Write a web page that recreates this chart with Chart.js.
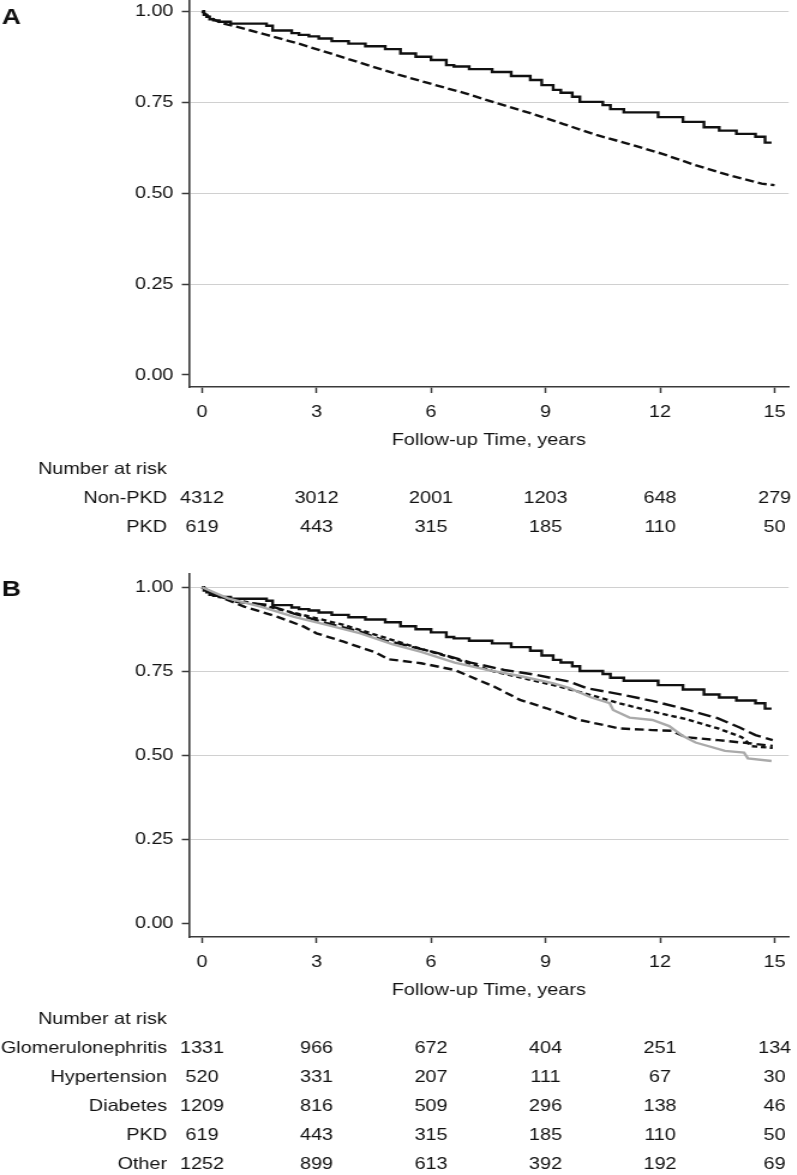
<!DOCTYPE html>
<html><head><meta charset="utf-8">
<script src="https://cdn.jsdelivr.net/npm/chart.js@4.4.1/dist/chart.umd.min.js"></script>
<style>
html,body{margin:0;padding:0;background:#fff;overflow:hidden;}
body{width:797px;height:1175px;position:relative;}
.wrap{position:absolute;left:0;width:664.17px;transform:scaleX(1.2);transform-origin:0 0;}
#wa{top:-20px;height:580px;}
#wb{top:540px;height:635px;}
</style></head><body>
<div class="wrap" id="wa"><canvas id="ca"></canvas></div>
<div class="wrap" id="wb"><canvas id="cb"></canvas></div>
<script>
// ---- tick values ----
const xTickValues = [0, 3, 6, 9, 12, 15];
const yTickValues = [0, 0.25, 0.5, 0.75, 1.0];
const xAxisTitle = 'Follow-up Time, years';

// ---- Panel A series ----
const tPKD = [0, 0.05, 0.12, 0.2, 0.3, 0.45, 0.75, 1.69, 1.85, 2.35, 2.54, 2.8, 3.06, 3.4, 3.84, 4.28, 4.8, 5.2, 5.6, 6.0, 6.4, 6.6, 7.0, 7.6, 8.1, 8.6, 8.9, 9.2, 9.4, 9.7, 9.9, 10.5, 10.7, 11.05, 11.95, 12.6, 13.15, 13.55, 14.0, 14.5, 14.75, 14.92];
const sPKD = [1.0, 0.99, 0.985, 0.978, 0.975, 0.971, 0.966, 0.960, 0.947, 0.940, 0.935, 0.931, 0.925, 0.918, 0.911, 0.904, 0.896, 0.884, 0.875, 0.866, 0.852, 0.848, 0.841, 0.833, 0.822, 0.811, 0.797, 0.784, 0.776, 0.765, 0.751, 0.742, 0.731, 0.722, 0.709, 0.696, 0.681, 0.672, 0.663, 0.655, 0.639, 0.639];
const tNonPKD = [0, 0.25, 0.5, 1.0, 1.7, 2.5, 3.06, 4.1, 5.14, 5.84, 6.88, 7.73, 8.6, 9.47, 10.33, 11.19, 12.06, 12.92, 13.78, 14.66, 15.0];
const sNonPKD = [1.0, 0.98, 0.968, 0.955, 0.935, 0.912, 0.894, 0.860, 0.826, 0.805, 0.775, 0.747, 0.720, 0.690, 0.660, 0.635, 0.608, 0.577, 0.550, 0.526, 0.522];

// ---- Panel B series ----
const tGlom = [0, 0.4, 0.9, 1.7, 2.41, 3.27, 4.15, 4.75, 5.14, 6.18, 7.04, 7.92, 8.77, 9.63, 10.07, 10.93, 11.8, 12.67, 13.52, 14.1, 14.5, 14.95];
const sGlom = [1.0, 0.975, 0.957, 0.948, 0.922, 0.893, 0.868, 0.843, 0.833, 0.804, 0.776, 0.754, 0.739, 0.719, 0.700, 0.682, 0.662, 0.637, 0.610, 0.582, 0.560, 0.545];
const tHyp = [0, 0.5, 1.12, 1.98, 2.67, 3.0, 3.71, 4.57, 4.88, 5.74, 6.62, 7.2, 7.66, 8.33, 9.03, 9.9, 10.93, 11.8, 12.3, 12.67, 13.52, 14.4, 14.95];
const sHyp = [1.0, 0.97, 0.942, 0.912, 0.883, 0.863, 0.838, 0.805, 0.786, 0.774, 0.754, 0.726, 0.704, 0.665, 0.640, 0.605, 0.580, 0.575, 0.573, 0.554, 0.545, 0.535, 0.528];
const tDiab = [0, 0.68, 1.56, 2.41, 3.27, 4.15, 5.0, 5.74, 6.62, 7.47, 8.33, 9.21, 9.63, 10.2, 10.68, 10.77, 11.2, 11.8, 12.24, 12.6, 12.93, 13.7, 14.2, 14.3, 14.92];
const sDiab = [1.0, 0.967, 0.942, 0.912, 0.888, 0.863, 0.830, 0.808, 0.776, 0.754, 0.736, 0.714, 0.700, 0.672, 0.655, 0.635, 0.612, 0.605, 0.587, 0.557, 0.538, 0.513, 0.508, 0.491, 0.483];
const tOther = [0, 0.5, 1.56, 2.85, 3.71, 4.57, 5.5, 6.5, 7.66, 8.33, 9.21, 10.07, 10.93, 11.8, 12.67, 13.52, 14.14, 14.4, 14.95];
const sOther = [1.0, 0.972, 0.947, 0.912, 0.888, 0.858, 0.825, 0.792, 0.749, 0.732, 0.709, 0.683, 0.655, 0.630, 0.608, 0.580, 0.554, 0.527, 0.522];

// ---- Number at risk ----
const riskHeader = 'Number at risk';
const riskLabelsA = ['Non-PKD', 'PKD'];
const riskNonPKD = [4312, 3012, 2001, 1203, 648, 279];
const riskPKD = [619, 443, 315, 185, 110, 50];
const riskLabelsB = ['Glomerulonephritis', 'Hypertension', 'Diabetes', 'PKD', 'Other'];
const riskGlom = [1331, 966, 672, 404, 251, 134];
const riskHyp = [520, 331, 207, 111, 67, 30];
const riskDiab = [1209, 816, 509, 296, 138, 46];
const riskOther = [1252, 899, 613, 392, 192, 69];

const FAMILY = "'Liberation Sans', Arial, Helvetica, sans-serif";
const FS = 16.5;
const TXT = '#111111';
const AX = '#3a3a3a';
const LW = 2.4;

function pts(t, s) { return t.map((v, i) => ({ x: v, y: s[i] })); }

const riskPlugin = {
  id: 'riskTable',
  afterDraw(chart, args, opts) {
    const ctx = chart.ctx, xs = chart.scales.x, area = chart.chartArea;
    ctx.save();
    ctx.fillStyle = TXT;
    ctx.font = FS + 'px ' + FAMILY;
    ctx.textBaseline = 'middle';
    ctx.textAlign = 'left';
    ctx.fillText(riskHeader, 31.7, area.bottom + 82.5);
    opts.labels.forEach((lab, r) => {
      const y = area.bottom + 111 + r * 29;
      ctx.textAlign = 'right';
      ctx.fillText(lab, 139.2, y);
      ctx.textAlign = 'center';
      opts.rows[r].forEach((v, i) => ctx.fillText(String(v), xs.getPixelForValue(xTickValues[i]), y));
    });
    ctx.font = 'bold 22px ' + FAMILY;
    ctx.textAlign = 'left';
    ctx.textBaseline = 'alphabetic';
    ctx.fillText(opts.panel, 1.5, opts.panelY);
    ctx.restore();
  }
};

function makeOptions(yMin, yMax, pad, risk) {
  const font = { family: FAMILY, size: FS };
  return {
    responsive: true, maintainAspectRatio: false, animation: false,
    layout: { padding: pad },
    plugins: { legend: { display: false }, tooltip: { enabled: false }, riskTable: risk },
    elements: { point: { radius: 0, hoverRadius: 0 }, line: { tension: 0 } },
    scales: {
      x: {
        type: 'linear', min: -0.34, max: 15.37,
        afterBuildTicks: s => { s.ticks = xTickValues.map(v => ({ value: v })); },
        afterFit: s => { s.height = 63.5; },
        ticks: { padding: 9.5, font, color: TXT, autoSkip: false, maxRotation: 0, callback: v => String(v) },
        grid: { drawOnChartArea: false, drawTicks: true, tickLength: 6, tickColor: AX, tickWidth: 1.5 },
        border: { color: AX, width: 1.6 },
        title: { display: true, text: xAxisTitle, font, color: TXT, padding: { top: 0, bottom: 0 } }
      },
      y: {
        type: 'linear', min: yMin, max: yMax,
        afterBuildTicks: s => { s.ticks = yTickValues.map(v => ({ value: v })); },
        afterFit: s => { s.width = 157.5; },
        ticks: { padding: 7, font, color: TXT, callback: v => Number(v).toFixed(2) },
        grid: {
          color: c => (c.tick && c.tick.value === 0) ? 'rgba(0,0,0,0)' : '#d0d0d0',
          lineWidth: 1, drawTicks: true, tickLength: 6, tickColor: AX, tickWidth: 1.5
        },
        border: { color: AX, width: 1.6 }
      }
    }
  };
}

new Chart(document.getElementById('ca'), {
  type: 'line',
  plugins: [riskPlugin],
  data: {
    datasets: [
      { label: 'Non-PKD', data: pts(tNonPKD, sNonPKD), borderColor: '#111', borderWidth: LW, borderDash: [7.5, 3.5], fill: false },
      { label: 'PKD', data: pts(tPKD, sPKD), borderColor: '#111', borderWidth: LW, stepped: true, fill: false }
    ]
  },
  options: makeOptions(-0.033, 1.031, { top: 20, left: 0, right: 2.5, bottom: 109.5 },
    { labels: riskLabelsA, rows: [riskNonPKD, riskPKD], panel: 'A', panelY: 44 })
});

new Chart(document.getElementById('cb'), {
  type: 'line',
  plugins: [riskPlugin],
  data: {
    datasets: [
      { label: 'Diabetes', data: pts(tDiab, sDiab), borderColor: '#aaaaaa', borderWidth: LW, fill: false },
      { label: 'Hypertension', data: pts(tHyp, sHyp), borderColor: '#111', borderWidth: LW, borderDash: [7.5, 4], fill: false },
      { label: 'Other', data: pts(tOther, sOther), borderColor: '#111', borderWidth: LW, borderDash: [4.5, 3], fill: false },
      { label: 'Glomerulonephritis', data: pts(tGlom, sGlom), borderColor: '#111', borderWidth: LW, borderDash: [11, 4.5], fill: false },
      { label: 'PKD', data: pts(tPKD, sPKD), borderColor: '#111', borderWidth: LW, stepped: true, fill: false }
    ]
  },
  options: makeOptions(-0.0408, 1.0396, { top: 34, left: 0, right: 2.5, bottom: 174.5 },
    { labels: riskLabelsB, rows: [riskGlom, riskHyp, riskDiab, riskPKD, riskOther], panel: 'B', panelY: 56 })
});
</script>
</body></html>
